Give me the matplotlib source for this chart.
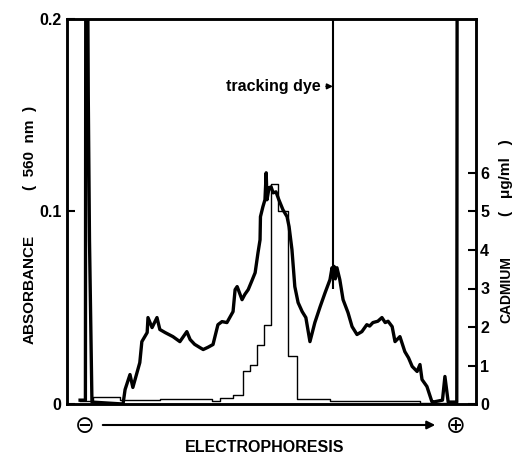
import matplotlib
matplotlib.use("Agg")
import matplotlib.pyplot as plt

plt.rcParams['font.family'] = ['Liberation Sans', 'DejaVu Sans']

# migration distance along the gel (0 = cathode end of the frame, 100 = anode end)
abs_x = [3.2, 4.5, 4.6, 5.0, 5.2, 5.5, 6.1,
         13.7, 14.2, 15.4, 16.1, 17.8, 18.3, 19.6, 19.8, 20.8, 22.0, 22.7, 24.0,
         25.9, 27.6, 29.3, 30.1, 31.2, 32.5, 33.3, 34.5, 35.7, 36.9, 37.9, 39.1, 40.6, 41.1,
         41.6, 42.8, 43.5, 44.3, 45.2, 46.0, 46.7, 47.2, 47.3, 47.9, 48.4, 48.7, 48.9, 49.4,
         49.9, 50.4, 51.1, 51.8, 52.8, 53.8, 54.3, 55.0, 55.7, 56.5, 57.5, 58.4,
         59.4, 60.6, 61.9, 63.1, 64.3, 64.8, 65.0, 65.3, 65.6, 66.0, 66.7, 67.5,
         68.7, 69.7, 70.9, 72.1, 73.3, 74.0, 74.8, 76.0, 77.0, 77.8, 78.5, 79.5, 80.2, 81.4, 82.6,
         83.5, 84.4, 85.6, 86.3, 86.8, 88.0, 88.8, 89.2, 89.5, 91.8, 92.4, 93.2, 95.3, 95.4]
absorbance = [0.002, 0.002, 0.25, 0.25, 0.160, 0.085, 0.001,
              0.0, 0.0075, 0.0153, 0.0086, 0.0215, 0.0324, 0.0371, 0.0449, 0.0397, 0.0449, 0.0387, 0.0371,
              0.0350, 0.0324, 0.0376, 0.0335, 0.0310, 0.0293, 0.0283, 0.0295, 0.0309, 0.0412, 0.0428, 0.0423, 0.0480, 0.0594,
              0.0610, 0.0542, 0.0570, 0.0594, 0.0640, 0.0682, 0.0786, 0.0853, 0.0973, 0.1025, 0.1061, 0.1201, 0.1061, 0.1123,
              0.1128, 0.1097, 0.1102, 0.1061, 0.1009, 0.0973, 0.0921, 0.0802, 0.0610, 0.0527, 0.0480, 0.0449,
              0.0324, 0.0423, 0.0506, 0.0578, 0.0646, 0.0708, 0.0660, 0.0715, 0.0650, 0.0708, 0.0646, 0.0542,
              0.0475, 0.0402, 0.0361, 0.0376, 0.0412, 0.0405, 0.0423, 0.0430, 0.0449, 0.0423, 0.0430, 0.0402, 0.0324, 0.0350, 0.0272,
              0.0240, 0.0195, 0.0169, 0.0205, 0.0127, 0.0091, 0.0039, 0.0013, 0.001, 0.002, 0.0143, 0.001, 0.001, 0.25]

# cadmium per fraction (step edges)
cd_x = [3.2, 6.4, 13.0, 22.7, 32.5, 35.5, 37.4, 40.6, 43.0, 44.7, 46.5, 48.2,
        49.9, 51.6, 54.0, 56.2, 64.3, 86.3, 95.4]
cadmium = [0.08, 0.18, 0.10, 0.13, 0.13, 0.08, 0.16, 0.23, 0.86, 1.01, 1.53, 2.05,
           5.71, 5.00, 1.25, 0.13, 0.08, 0.03, 0.03]

dye_x = 65.0
dye_from = 0.06

abs_ticks = [0, 0.1, 0.2]
abs_labels = ['0', '0.1', '0.2']
cd_ticks = [0, 1, 2, 3, 4, 5, 6]

fig = plt.figure(figsize=(5.32, 4.58), dpi=100)
ax = fig.add_axes([67/532, 1-404/458, (476-67)/532, (404-19)/458])

ax.plot(abs_x, absorbance, color='black', lw=2.4, solid_joinstyle='round')
ax.vlines(dye_x, dye_from, 0.2, color='black', lw=1.5)
ax.set_xlim(0, 100)
ax.set_ylim(0, 0.2)
ax.set_xticks([])
ax.set_yticks(abs_ticks)
ax.set_yticklabels(abs_labels)
ax.tick_params(axis='y', direction='in', length=6, width=1.5, labelsize=11.5, pad=4)
for lab in ax.get_yticklabels():
    lab.set_fontweight('bold')
for sp in ax.spines.values():
    sp.set_linewidth(1.8)

ax2 = ax.twinx()
ax2.plot(cd_x, cadmium, color='black', lw=1.0, drawstyle='steps-post')
ax2.set_ylim(0, 10)
ax2.set_yticks(cd_ticks)
ax2.tick_params(axis='y', direction='in', length=6, width=1.5, labelsize=11.5, pad=3)
for lab in ax2.get_yticklabels():
    lab.set_fontweight('bold')
for sp in ax2.spines.values():
    sp.set_linewidth(1.8)

# tracking dye label with small arrow
ax.annotate('tracking dye', xy=(dye_x, 0.165), xytext=(62.0, 0.165),
            ha='right', va='center', fontsize=11.5, fontweight='bold',
            arrowprops=dict(arrowstyle='-|>', color='black', lw=1.2,
                            mutation_scale=8, shrinkA=2, shrinkB=0))

# axis labels
fig.text(30/532, 1-289/458, 'ABSORBANCE', rotation=90, ha='center', va='center',
         fontsize=11, fontweight='bold')
fig.text(30/532, 1-148/458, '(  560  nm  )', rotation=90, ha='center', va='center',
         fontsize=11, fontweight='bold')
fig.text(506/532, 1-290/458, 'CADMIUM', rotation=90, ha='center', va='center',
         fontsize=10, fontweight='bold')
fig.text(506/532, 1-178/458, '(   μg/ml   )', rotation=90, ha='center', va='center',
         fontsize=11, fontweight='bold')

# electrophoresis direction
fig.text(85/532, 1-426/458, '⊖', ha='center', va='center', fontsize=17,
         family=['DejaVu Sans'])
fig.text(456/532, 1-426/458, '⊕', ha='center', va='center', fontsize=17,
         family=['DejaVu Sans'])
fig.add_artist(matplotlib.patches.FancyArrowPatch(
    (100/532, 1-425/458), (438/532, 1-425/458), transform=fig.transFigure,
    arrowstyle='-|>', mutation_scale=12, color='black', lw=1.5))
fig.text(265/532, 1-447/458, 'ELECTROPHORESIS', ha='center', va='center',
         fontsize=11.5, fontweight='bold')

fig.savefig('out.png', dpi=100)
